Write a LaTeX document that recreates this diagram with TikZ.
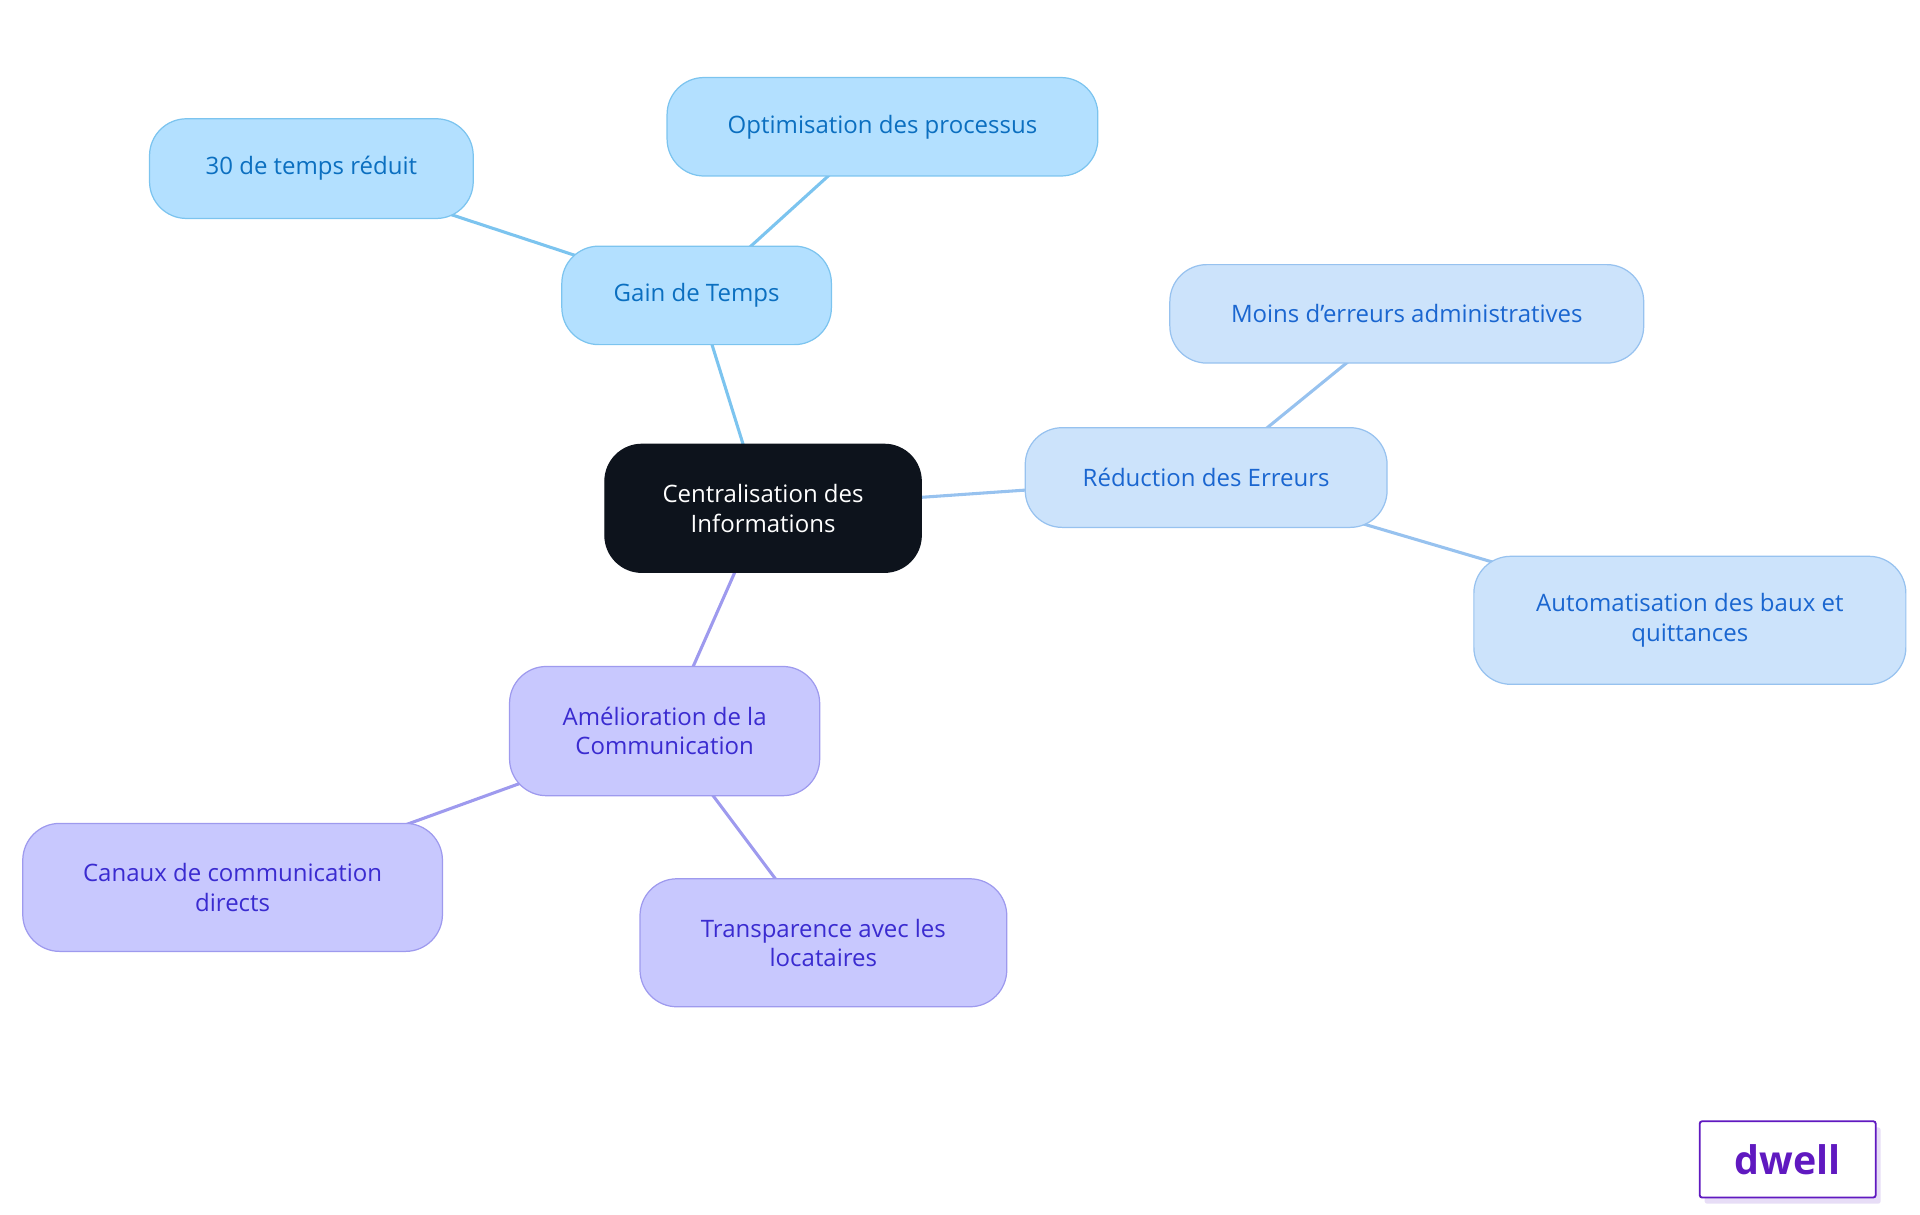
\documentclass[tikz,border=0pt]{standalone}
\usepackage{fontspec}
\setmainfont{Open Sans}
\usetikzlibrary{backgrounds}
\begin{document}
\begin{tikzpicture}[x=1pt,y=-1pt,
 box/.style={rounded corners=30pt,draw,line width=1pt,align=center,font=\fontsize{19.5}{24}\selectfont,inner sep=0pt},
 blue1/.style={box,fill=c1f,draw=c1d,text=c1t},
 blue2/.style={box,fill=c2f,draw=c2d,text=c2t},
 purp/.style={box,fill=c3f,draw=c3d,text=c3t},
 e1/.style={draw=c1d,line width=2.5pt},
 e2/.style={draw=c2d,line width=2.5pt},
 e3/.style={draw=c3d,line width=2.5pt}]
\definecolor{c0}{HTML}{0D131C}
\definecolor{c1f}{HTML}{B3E0FF}\definecolor{c1d}{HTML}{7CC4EF}\definecolor{c1t}{HTML}{0B6FC0}
\definecolor{c2f}{HTML}{CCE3FB}\definecolor{c2d}{HTML}{97C2EF}\definecolor{c2t}{HTML}{1A66D0}
\definecolor{c3f}{HTML}{C8C8FE}\definecolor{c3d}{HTML}{9E9AEE}\definecolor{c3t}{HTML}{3A2BD0}
\definecolor{logo}{HTML}{6019C0}
\useasboundingbox (0,0) rectangle (1560,987);
\node[box,fill=c0,draw=c0,text=white,minimum width=257pt,minimum height=104pt] (c) at (620,413) {Centralisation des\\Informations};
\node[blue1,minimum width=219pt,minimum height=80pt] (g) at (566,240) {Gain de Temps};
\node[blue1,minimum width=350pt,minimum height=80pt] (o) at (717,103) {Optimisation des processus};
\node[blue1,minimum width=263pt,minimum height=81pt] (t) at (253,137) {30 de temps réduit};
\node[blue2,minimum width=294pt,minimum height=81pt] (r) at (980,388) {Réduction des Erreurs};
\node[blue2,minimum width=385pt,minimum height=80pt] (m) at (1143,255) {Moins d'erreurs administratives};
\node[blue2,minimum width=351pt,minimum height=104pt] (a) at (1373,504) {Automatisation des baux et\\quittances};
\node[purp,minimum width=252pt,minimum height=105pt] (am) at (540,594) {Amélioration de la\\Communication};
\node[purp,minimum width=341pt,minimum height=104pt] (ca) at (189,721) {Canaux de communication\\directs};
\node[purp,minimum width=298pt,minimum height=104pt] (tr) at (669,766) {Transparence avec les\\locataires};
\begin{scope}[on background layer]
\path[e1] (c.center) -- (g.center); \path[e1] (g.center) -- (o.center); \path[e1] (g.center) -- (t.center);
\path[e2] (c.center) -- (r.center); \path[e2] (r.center) -- (m.center); \path[e2] (r.center) -- (a.center);
\path[e3] (c.center) -- (am.center); \path[e3] (am.center) -- (ca.center); \path[e3] (am.center) -- (tr.center);
\end{scope}
\fill[logo!15,rounded corners=2pt] (1385,916) rectangle (1528,978);
\node[draw=logo,fill=white,line width=1.5pt,rounded corners=2pt,minimum width=143pt,minimum height=62pt,text=logo,font=\fontsize{32}{32}\selectfont\bfseries] (lg) at (1452.5,942) {dwell};
\end{tikzpicture}
\end{document}
